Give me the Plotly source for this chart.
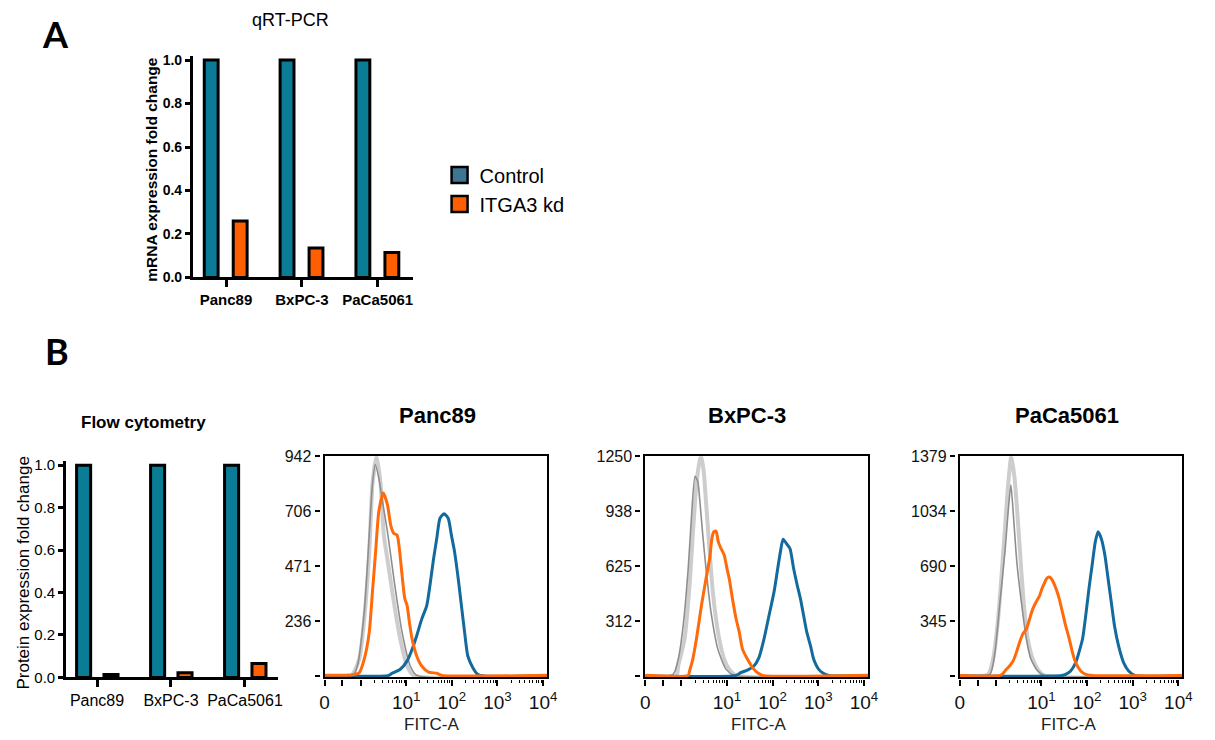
import math
import plotly.graph_objects as go

W, H = 1215, 740

# ---------------- data ----------------
cell_lines = ["Panc89", "BxPC-3", "PaCa5061"]
qpcr_control = [1.0, 1.0, 1.0]
qpcr_kd = [0.26, 0.135, 0.115]
flow_control = [1.0, 1.0, 1.0]
flow_kd = [0.013, 0.022, 0.065]

# flow histograms: x in display decades (10^k at k, "0" at -0.79), y = cell count
panc89_light_x = [-0.79, -0.21, -0.03, 0.08, 0.19, 0.26, 0.35, 0.44, 0.51, 0.62, 0.73, 0.87, 1.02, 1.16, 4.09]
panc89_light_y = [0, 0, 72, 244, 532, 820, 942, 820, 604, 460, 316, 158, 43, 3, 0]
panc89_dark_x = [-0.79, -0.17, -0.07, 0.08, 0.19, 0.26, 0.32, 0.40, 0.48, 0.59, 0.73, 0.91, 1.09, 1.23, 4.09]
panc89_dark_y = [0, 0, 43, 273, 604, 820, 906, 848, 748, 618, 417, 187, 43, 3, 0]
panc89_kd_x = [-0.79, -0.17, -0.03, 0.08, 0.19, 0.26, 0.33, 0.40, 0.50, 0.59, 0.66, 0.73, 0.80, 0.85, 0.91,
               0.97, 1.02, 1.07, 1.13, 1.23, 1.34, 1.49, 1.67, 1.78, 4.09]
panc89_kd_y = [3, 6, 14, 72, 187, 360, 532, 705, 784, 733, 647, 611, 604, 546, 431,
               331, 302, 230, 158, 86, 43, 17, 12, 3, 3]
panc89_ctrl_x = [-0.79, 0.62, 0.69, 0.87, 1.02, 1.13, 1.23, 1.34, 1.45, 1.52, 1.60, 1.67, 1.74, 1.83, 1.92,
                 1.99, 2.06, 2.14, 2.21, 2.28, 2.35, 2.46, 2.57, 2.71, 4.09]
panc89_ctrl_y = [0, 3, 12, 29, 65, 115, 173, 244, 302, 388, 503, 590, 676, 695, 676,
                 604, 532, 417, 302, 187, 86, 36, 7, 0, 0]

bxpc3_light_x = [-0.79, -0.11, -0.07, 0.07, 0.18, 0.25, 0.33, 0.40, 0.435, 0.49, 0.54, 0.62, 0.69, 0.76, 0.83,
                 0.94, 1.05, 1.20, 4.09]
bxpc3_light_y = [0, 0, 57, 210, 515, 801, 1088, 1221, 1250, 1164, 992, 706, 477, 324, 210, 95, 38, 4, 0]
bxpc3_dark_x = [-0.79, -0.18, -0.07, 0.04, 0.15, 0.22, 0.30, 0.36, 0.40, 0.47, 0.54, 0.65, 0.80, 0.98, 1.16, 4.09]
bxpc3_dark_y = [0, 10, 95, 286, 611, 897, 1135, 1107, 1011, 801, 611, 363, 153, 38, 4, 0]
bxpc3_kd_x = [-0.79, 0.15, 0.18, 0.25, 0.33, 0.44, 0.54, 0.62, 0.67, 0.71, 0.76, 0.81, 0.87, 0.94, 1.00,
              1.05, 1.12, 1.20, 1.27, 1.34, 1.45, 1.56, 1.67, 1.78, 4.09]
bxpc3_kd_y = [4, 4, 29, 95, 210, 401, 553, 668, 782, 820, 824, 763, 725, 687, 611,
              553, 439, 324, 248, 153, 95, 48, 19, 4, 4]
bxpc3_ctrl_x = [-0.79, 1.20, 1.30, 1.45, 1.59, 1.70, 1.81, 1.92, 2.03, 2.10, 2.17, 2.23, 2.30, 2.38, 2.46,
                2.54, 2.61, 2.68, 2.75, 2.83, 2.90, 3.01, 3.12, 3.23, 4.09]
bxpc3_ctrl_y = [0, 4, 19, 34, 57, 105, 210, 343, 477, 592, 706, 778, 754, 725, 611,
                515, 439, 343, 248, 172, 95, 38, 15, 4, 0]

paca_light_x = [-0.79, -0.17, -0.06, 0.05, 0.12, 0.20, 0.27, 0.34, 0.41, 0.49, 0.56, 0.63, 0.70, 0.81, 0.92, 1.06, 4.09]
paca_light_y = [0, 11, 105, 358, 610, 926, 1200, 1379, 1242, 947, 653, 400, 232, 105, 42, 4, 0]
paca_dark_x = [-0.79, -0.13, -0.02, 0.09, 0.20, 0.27, 0.33, 0.39, 0.46, 0.56, 0.67, 0.77, 0.92, 1.06, 4.09]
paca_dark_y = [0, 11, 147, 463, 779, 1031, 1200, 989, 716, 463, 232, 105, 32, 4, 0]
paca_kd_x = [-0.79, 0.09, 0.16, 0.23, 0.30, 0.38, 0.45, 0.52, 0.59, 0.67, 0.74, 0.81, 0.88, 0.96, 1.01,
             1.06, 1.11, 1.17, 1.24, 1.32, 1.39, 1.46, 1.53, 1.61, 1.68, 1.75, 1.86, 1.97, 2.11, 4.09]
paca_kd_y = [4, 4, 17, 42, 63, 95, 147, 211, 263, 295, 358, 421, 463, 505, 547,
             579, 610, 621, 600, 547, 484, 400, 316, 232, 147, 84, 32, 11, 4, 4]
paca_ctrl_x = [-0.79, 1.45, 1.53, 1.64, 1.75, 1.82, 1.90, 1.97, 2.04, 2.11, 2.18, 2.24, 2.31, 2.39, 2.46,
               2.53, 2.60, 2.69, 2.80, 2.91, 3.05, 4.09]
paca_ctrl_y = [0, 4, 11, 32, 84, 147, 232, 379, 547, 695, 842, 905, 863, 758, 610,
               463, 316, 189, 84, 32, 4, 0]

hist_titles = ["Panc89", "BxPC-3", "PaCa5061"]
hist_ymax = [942, 1250, 1379]
hist_ytick_vals = [[0, 236, 471, 706, 942], [0, 312, 625, 938, 1250], [0, 345, 690, 1034, 1379]]
hist_ytick_text = [["", "236", "471", "706", "942"], ["", "312", "625", "938", "1250"],
                   ["", "345", "690", "1034", "1379"]]
x_tick_vals = [-0.79, -0.40, 0, 1, 2, 3, 4]
x_tick_text = ["0", "", "", "10<sup>1</sup>", "10<sup>2</sup>", "10<sup>3</sup>", "10<sup>4</sup>"]

# ---------------- style ----------------
FONT = "Liberation Sans, Arial, sans-serif"
BAR_TEAL = "#0A7C96"
BAR_ORANGE = "#FF5F00"
LEG_BLUE = "#3D7592"
H_BLUE = "#136A9C"
H_ORANGE = "#FF6A0A"
H_LIGHT = "#CDCDCD"
H_DARK = "#8E8E8E"

# vertical placement helpers (target pixel -> paper fraction)
SY, OY = 0.973, 9.3


def fx(px):
    return px / W


def fy(py):
    return 1 - ((py - OY) / SY) / H


fig = go.Figure()

# ---------------- Panel A bars ----------------
fig.add_trace(go.Bar(x=cell_lines, y=qpcr_control, xaxis="x", yaxis="y", offset=-0.287, width=0.183,
                     marker=dict(color=BAR_TEAL, line=dict(color="black", width=3)), showlegend=False))
fig.add_trace(go.Bar(x=cell_lines, y=qpcr_kd, xaxis="x", yaxis="y", offset=0.095, width=0.183,
                     marker=dict(color=BAR_ORANGE, line=dict(color="black", width=3)), showlegend=False))

# ---------------- Panel B bars ----------------
fig.add_trace(go.Bar(x=cell_lines, y=flow_control, xaxis="x2", yaxis="y2", offset=-0.276, width=0.19,
                     marker=dict(color=BAR_TEAL, line=dict(color="black", width=3)), showlegend=False))
fig.add_trace(go.Bar(x=cell_lines, y=flow_kd, xaxis="x2", yaxis="y2", offset=0.094, width=0.19,
                     marker=dict(color=BAR_ORANGE, line=dict(color="black", width=3)), showlegend=False))

# legend entries
fig.add_trace(go.Scatter(x=[None], y=[None], mode="markers", name="Control", xaxis="x", yaxis="y",
                         marker=dict(symbol="square", size=16, color=LEG_BLUE, line=dict(color="black", width=2.5))))
fig.add_trace(go.Scatter(x=[None], y=[None], mode="markers", name="ITGA3 kd", xaxis="x", yaxis="y",
                         marker=dict(symbol="square", size=16, color=BAR_ORANGE, line=dict(color="black", width=2.5))))

# ---------------- histograms ----------------
hist_series = [
    [(panc89_light_x, panc89_light_y), (panc89_dark_x, panc89_dark_y), (panc89_ctrl_x, panc89_ctrl_y),
     (panc89_kd_x, panc89_kd_y)],
    [(bxpc3_light_x, bxpc3_light_y), (bxpc3_dark_x, bxpc3_dark_y), (bxpc3_ctrl_x, bxpc3_ctrl_y),
     (bxpc3_kd_x, bxpc3_kd_y)],
    [(paca_light_x, paca_light_y), (paca_dark_x, paca_dark_y), (paca_ctrl_x, paca_ctrl_y),
     (paca_kd_x, paca_kd_y)],
]
line_styles = [(H_LIGHT, 4), (H_DARK, 1.6), (H_BLUE, 3), (H_ORANGE, 3)]

hist_left = [323.5, 648.3, 966.7]
hist_w = 225.5
hist_top, hist_bot = 455, 675
title_cx = [438, 751, 1075]
fitc_cx = [432, 763, 1077]

minor_vals = [d + math.log10(k) for d in range(0, 4) for k in range(2, 10)]

layout_axes = {}
annotations = []
for i in range(3):
    main_n = 3 + i
    free_n = 6 + i
    xr = [-0.79, 4.09]
    yr = [-0.006 * hist_ymax[i], hist_ymax[i]]
    for (xs, ys), (col, lw) in zip(hist_series[i], line_styles):
        fig.add_trace(go.Scatter(x=xs, y=ys, mode="lines", xaxis=f"x{main_n}", yaxis=f"y{main_n}",
                                 line=dict(color=col, width=lw, shape="spline", smoothing=0.6),
                                 showlegend=False, hoverinfo="skip"))
    fig.add_trace(go.Scatter(x=[None], y=[None], xaxis=f"x{free_n}", yaxis=f"y{free_n}",
                             showlegend=False, hoverinfo="skip"))
    L = hist_left[i]
    layout_axes[f"xaxis{main_n}"] = dict(domain=[fx(L), fx(L + hist_w)], anchor=f"y{main_n}", range=xr,
                                         showline=True, mirror=True, linecolor="black", linewidth=1.5,
                                         ticks="", showticklabels=False, showgrid=False, zeroline=False)
    layout_axes[f"yaxis{main_n}"] = dict(domain=[fy(hist_bot), fy(hist_top)], anchor=f"x{main_n}", range=yr,
                                         showline=True, mirror=True, linecolor="black", linewidth=1.5,
                                         ticks="", showticklabels=False, showgrid=False, zeroline=False)
    layout_axes[f"xaxis{free_n}"] = dict(overlaying=f"x{main_n}", anchor="free", position=fy(hist_bot + 1.5),
                                         range=xr, showline=False, showgrid=False, zeroline=False,
                                         ticks="outside", ticklen=6, tickwidth=1.5, tickcolor="black",
                                         tickmode="array", tickvals=x_tick_vals, ticktext=x_tick_text,
                                         tickfont=dict(family=FONT, size=19, color="#111"),
                                         minor=dict(tickmode="array", tickvals=minor_vals, ticks="outside",
                                                    ticklen=3, tickwidth=1, tickcolor="black"),
                                         side="bottom")
    layout_axes[f"yaxis{free_n}"] = dict(overlaying=f"y{main_n}", anchor="free", position=fx(L - 5),
                                         range=yr, showline=False, showgrid=False, zeroline=False,
                                         ticks="outside", ticklen=5, tickwidth=1.5, tickcolor="black",
                                         tickmode="array", tickvals=hist_ytick_vals[i], ticktext=hist_ytick_text[i],
                                         tickfont=dict(family=FONT, size=16, color="#111"), side="left")
    annotations.append(dict(text=hist_titles[i], x=fx(title_cx[i]), y=fy(415),
                            font=dict(family=FONT, size=22, color="black", weight="bold")))
    annotations.append(dict(text="FITC-A", x=fx(fitc_cx[i]), y=-0.004, yanchor="bottom", borderpad=0,
                            font=dict(family=FONT, size=17, color="#222")))

ytv = [0, 0.2, 0.4, 0.6, 0.8, 1.0]
ytt = ["0.0", "0.2", "0.4", "0.6", "0.8", "1.0"]

layout_axes["xaxis"] = dict(domain=[fx(190), fx(412.7)], anchor="y", range=[-0.44, 2.46], type="category",
                            showline=True, linecolor="black", linewidth=2.5, ticks="outside", ticklen=7,
                            tickwidth=2.5, tickcolor="black", showgrid=False, zeroline=False,
                            tickfont=dict(family=FONT, size=15, color="black", weight="bold"))
layout_axes["yaxis"] = dict(domain=[fy(277.3), fy(56.7)], anchor="x", range=[0, 1.02], tickmode="array",
                            tickvals=ytv, ticktext=ytt, showline=True, linecolor="black", linewidth=2.5,
                            ticks="outside", ticklen=5, tickwidth=2.5, tickcolor="black", showgrid=False,
                            zeroline=False, tickfont=dict(family=FONT, size=14, color="black", weight="bold"))
layout_axes["xaxis2"] = dict(domain=[fx(61.7), fx(276.7)], anchor="y2", range=[-0.42, 2.45], type="category",
                             showline=True, linecolor="black", linewidth=2.5, ticks="outside", ticklen=7,
                             tickwidth=2.5, tickcolor="black", showgrid=False, zeroline=False,
                             tickfont=dict(family=FONT, size=16, color="black"))
layout_axes["yaxis2"] = dict(domain=[fy(675), fy(459.8)], anchor="x2", range=[0, 1.02], tickmode="array",
                             tickvals=ytv, ticktext=ytt, showline=True, linecolor="black", linewidth=2.5,
                             ticks="outside", ticklen=5, tickwidth=2.5, tickcolor="black", showgrid=False,
                             zeroline=False, tickfont=dict(family=FONT, size=15, color="black"))

annotations += [
    dict(text="A", x=fx(51), y=fy(35), font=dict(family="Lato, Open Sans, sans-serif", size=36, color="black",
                                               weight="bold")),
    dict(text="B", x=fx(53), y=fy(350), font=dict(family="Lato, Open Sans, sans-serif", size=36, color="black",
                                                weight="bold")),
    dict(text="qRT-PCR", x=fx(289), y=fy(21), font=dict(family=FONT, size=18, color="black")),
    dict(text="Flow cytometry", x=fx(140), y=fy(422), font=dict(family=FONT, size=17, color="black", weight="bold")),
    dict(text="mRNA expression fold change", x=fx(148), y=fy(170), textangle=-90,
         font=dict(family=FONT, size=15.5, color="black", weight="bold")),
    dict(text="Protein expression fold change", x=fx(19), y=fy(571), textangle=-90,
         font=dict(family=FONT, size=17, color="black")),
]
for a in annotations:
    a.setdefault("xref", "paper")
    a.setdefault("yref", "paper")
    a.setdefault("showarrow", False)
    a.setdefault("xanchor", "center")
    a.setdefault("yanchor", "middle")

fig.update_layout(
    width=W, height=H, autosize=False,
    margin=dict(l=0, r=0, t=0, b=0),
    paper_bgcolor="white", plot_bgcolor="white",
    barmode="overlay",
    showlegend=True,
    legend=dict(x=fx(440), y=fy(156), xanchor="left", yanchor="top", bgcolor="rgba(0,0,0,0)",
                font=dict(family=FONT, size=20, color="black"), tracegroupgap=0, itemclick=False),
    annotations=annotations,
    **layout_axes,
)

page_fix = (
    "var s=document.documentElement.style, b=document.body.style;"
    "s.margin='0';s.padding='0';s.height='740px';s.width='1215px';s.overflow='hidden';"
    "b.margin='0';b.padding='0';b.height='740px';b.width='1215px';b.overflow='hidden';"
)
fig.write_html("out.html", config={"displayModeBar": False}, post_script=page_fix)
